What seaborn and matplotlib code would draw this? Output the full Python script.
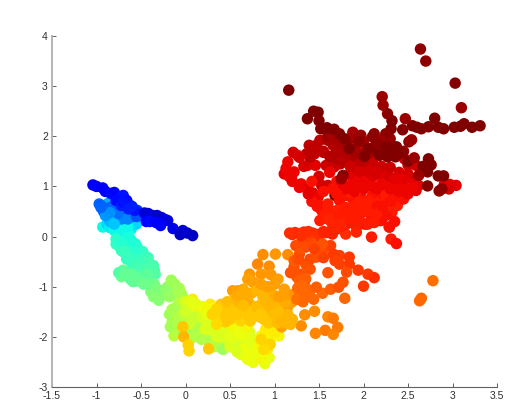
import matplotlib
matplotlib.use("Agg")
import matplotlib.pyplot as plt
import numpy as np
import pandas as pd
import seaborn as sns

x_ticks = [-1.5, -1, -0.5, 0, 0.5, 1, 1.5, 2, 2.5, 3, 3.5]
x_labels = ["-1.5", "-1", "-0.5", "0", "0.5", "1", "1.5", "2", "2.5", "3", "3.5"]
y_ticks = [-3, -2, -1, 0, 1, 2, 3, 4]
y_labels = ["-3", "-2", "-1", "0", "1", "2", "3", "4"]

# dark red points partly hidden by later ones
x_under = [1.47,1.68,1.34]
y_under = [-0.15,0.82,-0.87]
c_under = [1.0,0.98,0.98]

# dark red, top of the cloud
x_maroon = [2.64,2.70,3.03,3.10,1.16,2.21,2.22,2.27,2.32,2.31,2.25,2.44,2.55,2.65,2.60,2.73,2.84,2.90,3.02,3.13,3.09,3.22,3.31,2.47,2.80,1.44,1.49,1.37,1.50,1.52,1.59,1.67,1.73,1.79,1.97,2.12,2.10,2.20,2.26,2.37,2.51,2.54,2.10,2.27,2.36,2.18,2.67,2.73,2.76,2.72,2.84,2.90,2.72,2.85,2.88,1.77,2.01,1.84,1.95,2.05,2.15,2.30,2.40,2.50,2.57,2.62,1.75]
y_maroon = [3.74,3.50,3.06,2.57,2.92,2.79,2.62,2.45,2.31,2.15,2.05,2.13,2.21,2.15,2.18,2.19,2.18,2.15,2.18,2.25,2.20,2.18,2.21,2.35,2.36,2.50,2.48,2.35,2.31,2.15,2.17,2.14,2.05,1.95,2.02,2.05,1.99,1.92,1.79,1.79,1.89,1.93,1.77,1.59,1.59,1.62,1.40,1.55,1.43,1.29,1.21,1.21,1.01,0.91,0.95,1.22,1.60,1.75,1.90,1.75,1.85,1.72,1.65,1.50,1.57,1.22,1.15]
c_maroon = [0.96,0.96,0.97,0.95,1.0,0.95,0.95,0.96,0.97,0.97,0.96,0.97,0.98,0.99,0.99,0.97,0.97,0.98,0.98,0.98,0.99,0.99,0.99,0.95,1.0,0.97,0.99,0.98,1.0,1.0,0.99,0.98,0.97,0.97,0.95,0.96,0.96,0.95,0.98,0.99,0.96,0.95,1.0,0.99,1.0,0.98,1.0,0.99,1.0,1.0,1.0,1.0,0.97,0.96,0.96,0.97,1.0,0.98,0.96,0.97,0.96,0.98,0.97,0.97,0.95,0.95,0.95]

# deep red, upper part of the main cloud
x_deep = [1.60,1.65,1.75,1.85,1.90,2.00,2.15,2.25,2.30,2.35,2.05,1.90,1.80,1.70,2.20,2.45,1.95,1.55,1.62]
y_deep = [2.00,1.95,1.90,1.95,2.00,1.90,1.85,1.85,1.95,1.70,1.65,1.75,1.65,1.70,1.70,1.70,1.65,1.70,1.60]
c_deep = [0.95,0.94,0.94,0.95,0.94,0.94,0.95,0.95,0.95,0.95,0.94,0.94,0.93,0.93,0.95,0.96,0.94,0.92,0.93]

# pure and deep red, main cloud
x_red = [1.15,1.11,1.17,1.22,1.26,1.30,1.37,1.43,1.49,1.51,1.53,1.37,1.46,1.51,1.64,1.39,1.47,1.45,1.36,1.51,1.60,1.88,1.66,1.73,1.84,1.99,1.90,2.10,2.46,2.59,2.50,1.96,1.88,1.74,1.67,1.58,1.60,1.53,2.97,3.04,2.96,2.91,2.62,2.54,2.59,1.88,1.99,2.09,2.10,2.22,2.29,2.37,2.44,2.22,2.10,1.99,1.88,1.81,1.73,1.62,1.79,1.94,2.00,2.12,2.20,2.32,2.38,2.20,2.29,2.09,2.01,1.92,1.81,1.80,1.92,2.09,2.29,2.31,2.37,2.03,2.18,1.50,1.70,1.75,1.85,1.95,2.05,2.15,2.25,2.35,2.45,2.55,1.40,1.45,1.55,1.65,1.70,1.80,1.90,2.00,2.10,2.20,2.30,2.40,2.50,2.05,2.15,2.25,2.00,1.90,1.80,1.70,1.60,1.55,1.65,1.75,1.85,1.95,2.05,2.15,2.25,2.35,2.45,1.28,1.33,1.21,1.13,1.19,1.42,1.55,1.62,1.70,1.85,1.95,2.05,2.12,1.42,1.48,1.38,1.60,1.55,1.60,1.68,1.72,1.78,1.85,1.90,1.95,1.70,1.75,1.85,1.95,2.05,2.15,2.22,2.30,2.35,2.40,2.50,2.30,2.20,2.10,2.00,1.90,1.80,1.70,1.65,1.75,1.85,1.95,2.05,2.15,2.35,2.45,1.85,2.00,1.75,1.20,1.28]
y_red = [1.49,1.25,1.19,1.29,1.62,1.05,0.95,0.87,0.79,0.62,0.52,1.42,1.42,0.32,0.29,1.82,1.82,1.65,1.65,1.92,1.92,2.08,1.82,1.79,1.62,1.73,1.59,1.59,1.55,1.42,1.43,1.45,1.32,1.45,1.39,1.42,1.02,1.02,1.04,1.02,0.95,1.05,1.02,1.15,0.92,1.12,1.19,1.39,1.19,1.25,1.19,0.99,1.02,0.79,0.82,0.75,0.75,0.82,0.72,0.45,0.39,0.42,0.49,0.45,0.49,0.49,0.62,0.32,0.19,0.35,0.25,0.19,0.25,0.05,0.09,-0.01,0.19,-0.05,-0.14,0.25,0.32,1.20,1.05,0.95,1.00,1.08,1.02,0.95,1.00,1.05,0.90,0.98,1.58,1.70,1.68,1.60,1.55,1.50,1.40,1.35,1.48,1.40,1.38,1.28,1.25,0.72,0.66,0.82,0.62,0.60,0.58,0.52,0.65,0.10,0.15,0.20,0.30,0.42,0.55,0.60,0.42,0.30,0.75,1.58,1.40,1.68,1.36,1.18,1.10,0.90,1.28,1.10,0.88,0.70,0.50,0.28,0.70,0.60,0.85,0.55,0.42,0.35,0.30,0.42,0.55,0.50,0.40,0.50,0.15,0.25,0.30,0.30,0.25,0.45,0.60,0.70,0.80,0.90,0.85,0.95,1.05,1.00,0.95,0.90,0.95,0.85,0.95,1.10,1.25,1.30,1.30,1.25,1.15,1.15,1.40,1.50,1.60,1.10,0.98]
c_red = [0.88,0.89,0.88,0.88,0.87,0.88,0.89,0.89,0.88,0.87,0.87,0.89,0.89,0.86,0.85,0.92,0.92,0.91,0.92,0.92,0.93,0.94,0.93,0.93,0.93,0.89,0.94,0.94,0.90,0.91,0.91,0.91,0.90,0.92,0.91,0.91,0.90,0.90,0.89,0.89,0.90,0.89,0.89,0.89,0.89,0.88,0.88,0.88,0.89,0.89,0.90,0.88,0.88,0.87,0.87,0.87,0.87,0.87,0.87,0.85,0.85,0.86,0.87,0.86,0.86,0.86,0.86,0.87,0.87,0.87,0.87,0.86,0.86,0.84,0.85,0.86,0.87,0.86,0.87,0.87,0.87,0.90,0.88,0.88,0.88,0.88,0.88,0.88,0.88,0.88,0.88,0.88,0.92,0.92,0.92,0.92,0.93,0.93,0.92,0.92,0.91,0.91,0.91,0.90,0.90,0.86,0.86,0.86,0.86,0.86,0.86,0.85,0.86,0.85,0.85,0.86,0.86,0.86,0.86,0.87,0.87,0.87,0.87,0.90,0.90,0.90,0.88,0.88,0.87,0.87,0.88,0.87,0.86,0.86,0.86,0.86,0.87,0.87,0.89,0.86,0.86,0.85,0.85,0.86,0.86,0.86,0.86,0.86,0.85,0.85,0.86,0.86,0.86,0.86,0.87,0.87,0.87,0.88,0.88,0.88,0.88,0.88,0.88,0.88,0.88,0.87,0.87,0.88,0.89,0.90,0.90,0.90,0.89,0.89,0.91,0.92,0.92,0.88,0.88]

# orange-red, below the cloud
x_orange_red = [1.17,1.23,1.28,1.33,1.38,1.43,1.48,1.53,1.58,1.65,1.24,1.30,1.36,1.41,1.44,1.22,1.18,1.25,1.35,1.40,1.30,1.28,1.35,1.54,1.63,1.73,1.84,1.84,1.73,1.66,1.35,1.28,1.22,1.47,1.54,1.94,1.81,2.05,2.12,1.60,1.26,1.32,1.37,1.29,1.34,1.25,1.32,1.39,1.33,1.44,1.54,1.63,1.72,1.77,2.00,1.47,1.79,1.30,1.38,1.20,1.27,1.45,1.55,1.68,1.40]
y_orange_red = [0.07,0.08,0.06,0.09,0.05,0.07,0.04,0.06,0.08,0.05,-0.18,-0.12,-0.05,-0.10,-0.16,-0.60,-0.72,-0.80,-0.55,-0.65,-0.75,-0.88,-0.84,-0.28,-0.18,-0.38,-0.41,-0.55,-0.55,-0.35,-0.21,-0.35,-0.48,-0.41,-0.15,-0.67,-0.71,-0.75,-0.82,-0.72,-1.03,-0.98,-1.05,-1.15,-1.20,-1.25,-1.30,-1.12,-1.08,-1.25,-1.13,-1.05,-1.01,-0.91,-0.99,-1.01,-1.23,0.02,0.10,0.04,-0.45,-0.25,-0.42,-0.48,-0.45]
c_orange_red = [0.84,0.84,0.84,0.84,0.84,0.84,0.84,0.84,0.85,0.85,0.81,0.81,0.82,0.82,0.81,0.80,0.80,0.80,0.80,0.80,0.80,0.79,0.79,0.81,0.82,0.82,0.83,0.83,0.82,0.83,0.81,0.80,0.79,0.80,0.80,0.83,0.81,0.83,0.84,0.80,0.78,0.78,0.78,0.78,0.78,0.77,0.78,0.78,0.78,0.78,0.78,0.79,0.80,0.80,0.83,0.79,0.78,0.84,0.84,0.84,0.81,0.82,0.82,0.82,0.81]

# orange and amber, right side of the valley
x_orange = [0.87,1.01,1.15,0.81,0.94,0.72,0.85,0.96,1.04,0.76,0.81,0.53,0.59,0.74,0.94,1.11,0.66,0.87,0.96,0.48,0.55,1.34,1.45,1.60,1.66,1.71,1.57,1.66,1.46,1.30,1.17,1.08,1.10,1.15,1.20,1.05,1.00,0.85,0.90,0.95,0.70,0.75,0.80,0.60,0.65,0.55,0.50,0.42,0.38,0.45,0.52,0.58,0.62,0.68,0.73,0.78,0.83,0.88,0.93,0.98,1.03,1.08,1.13,1.18,0.30,0.35,0.60,0.70,0.80,0.90,1.00,1.10,2.65,2.63,2.78,0.40,0.47,0.55,0.60,0.70,0.75,0.80,0.85,0.90,0.95,1.00,1.05,1.10,0.65,0.58,0.45,0.35,1.15,1.20,1.12,1.05,1.15,1.22,0.85,0.92,1.00,0.70,0.65,0.58]
y_orange = [-0.36,-0.35,-0.36,-0.55,-0.59,-0.75,-0.75,-0.76,-0.85,-0.91,-1.00,-1.08,-1.08,-1.13,-1.05,-1.05,-1.25,-1.20,-1.28,-1.37,-1.25,-1.56,-1.49,-1.60,-1.63,-1.81,-1.87,-1.95,-1.93,-1.78,-1.63,-1.80,-1.55,-1.40,-1.30,-1.35,-1.45,-1.35,-1.45,-1.55,-1.45,-1.38,-1.50,-1.40,-1.50,-1.55,-1.65,-1.50,-1.60,-1.70,-1.45,-1.60,-1.68,-1.60,-1.68,-1.42,-1.60,-1.65,-1.72,-1.62,-1.72,-1.68,-1.72,-1.75,-1.55,-1.75,-1.20,-1.28,-1.08,-1.10,-1.18,-1.20,-1.23,-1.28,-0.88,-1.35,-1.30,-1.45,-1.30,-1.55,-1.60,-1.40,-1.55,-1.30,-1.40,-1.55,-1.50,-1.70,-1.38,-1.55,-1.55,-1.45,-1.55,-1.65,-1.30,-1.20,-1.15,-1.15,-0.95,-1.00,-0.95,-0.85,-1.05,-1.18]
c_orange = [0.74,0.73,0.74,0.75,0.74,0.73,0.73,0.73,0.72,0.72,0.72,0.72,0.72,0.71,0.71,0.72,0.71,0.70,0.70,0.70,0.70,0.74,0.74,0.75,0.76,0.76,0.76,0.75,0.75,0.74,0.72,0.72,0.71,0.72,0.72,0.70,0.70,0.69,0.69,0.69,0.68,0.68,0.68,0.68,0.68,0.68,0.68,0.67,0.67,0.68,0.68,0.68,0.67,0.67,0.68,0.68,0.68,0.68,0.68,0.68,0.69,0.70,0.69,0.70,0.67,0.66,0.70,0.71,0.70,0.70,0.71,0.71,0.78,0.78,0.77,0.68,0.69,0.68,0.70,0.68,0.68,0.69,0.68,0.70,0.70,0.69,0.69,0.70,0.69,0.68,0.68,0.67,0.70,0.70,0.71,0.72,0.72,0.73,0.72,0.72,0.72,0.72,0.71,0.71]

# yellow, floor of the valley
x_yellow = [0.89,0.89,0.94,0.81,0.70,0.62,0.76,0.84,0.92,0.98,1.05,0.40,0.45,0.50,0.55,0.60,0.65,0.70,0.75,0.80,0.85,0.28,0.33,0.38,0.42,0.48,0.52,0.58,0.62,0.66,0.72,0.78,0.85,0.05,0.12,0.18,0.24,0.30,0.36,0.90,0.95,1.00,0.15,0.22,0.08,0.72,0.80,0.87,0.00,0.06,0.12,0.20,0.25,0.30,0.10,0.20,0.30,0.40,0.45,0.50,0.55,0.60,0.65,0.70,0.75,0.80,0.85,0.65,0.58,0.50,0.35,0.25,0.00,0.05,0.62,0.70,0.90,1.00,1.05,0.95,0.75,0.68]
y_yellow = [-2.21,-2.53,-2.41,-2.38,-2.45,-2.35,-2.51,-2.42,-2.25,-1.95,-1.98,-1.65,-1.85,-1.72,-1.90,-2.05,-1.95,-2.15,-2.05,-2.10,-1.98,-1.35,-1.42,-1.60,-2.00,-2.08,-1.78,-2.10,-2.22,-1.85,-1.90,-2.20,-2.30,-1.38,-1.45,-1.55,-1.70,-1.88,-1.80,-1.95,-2.10,-1.90,-1.40,-1.85,-1.25,-2.30,-2.15,-2.05,-1.30,-1.30,-1.35,-1.40,-1.45,-1.50,-1.60,-1.62,-1.70,-1.75,-1.95,-2.00,-2.00,-1.85,-2.05,-2.00,-2.10,-2.25,-2.15,-2.25,-2.30,-2.20,-2.00,-1.55,-1.50,-1.75,-1.95,-1.80,-1.85,-1.80,-1.85,-1.80,-2.35,-2.40]
c_yellow = [0.64,0.62,0.62,0.62,0.62,0.61,0.62,0.63,0.64,0.63,0.63,0.64,0.60,0.62,0.60,0.58,0.61,0.58,0.60,0.60,0.63,0.64,0.63,0.62,0.60,0.59,0.63,0.59,0.59,0.61,0.60,0.62,0.62,0.63,0.62,0.62,0.61,0.60,0.60,0.64,0.63,0.64,0.63,0.60,0.64,0.61,0.62,0.63,0.60,0.61,0.61,0.62,0.63,0.63,0.58,0.60,0.60,0.61,0.60,0.61,0.61,0.62,0.60,0.61,0.61,0.62,0.63,0.62,0.60,0.60,0.60,0.62,0.59,0.58,0.62,0.63,0.64,0.64,0.64,0.64,0.62,0.62]

# amber stragglers
x_amber = [-0.03,-0.02,0.03,0.04,0.26,0.95,0.88,0.85]
y_amber = [-1.80,-2.00,-2.16,-2.28,-2.24,-2.15,-2.25,-2.05]
c_amber = [0.68,0.70,0.67,0.67,0.68,0.67,0.66,0.67]

# lime and green, left of the valley
x_green = [-0.70,-0.72,-0.59,-0.65,-0.44,-0.39,-0.30,-0.28,-0.16,-0.12,-0.07,-0.03,-0.20,-0.25,-0.35,-0.55,-0.75,-0.62,-0.50,-0.42,-0.15,-0.10,-0.05,0.00,-0.15,-0.13,-0.08,-0.02,0.05,0.10,0.15,0.20,0.26,0.32,0.38,0.44,0.50,0.00,0.05,0.12,0.18,0.25,0.30,0.55,0.42,0.48,-0.18,-0.10,-0.06,0.02,-0.68,-0.60,-0.55,-0.47,-0.40,-0.33,-0.36,-0.22,-0.18,-0.12,-0.05,-0.02,-0.10,-0.15,-0.17,-0.08,0.00,0.06,0.10,0.14,0.18,0.22,0.34]
y_green = [-0.67,-0.80,-0.90,-0.72,-0.83,-1.10,-1.27,-1.07,-0.87,-1.10,-1.03,-1.20,-1.00,-1.15,-0.95,-0.80,-0.72,-0.85,-0.90,-0.75,-0.95,-1.20,-1.30,-1.35,-1.70,-1.98,-1.85,-1.55,-1.60,-1.70,-1.80,-1.95,-2.10,-2.20,-2.05,-2.15,-2.10,-1.95,-2.05,-1.72,-1.85,-1.95,-2.10,-2.15,-2.25,-1.90,-1.55,-1.60,-1.45,-1.75,-0.75,-0.75,-0.88,-0.95,-0.95,-1.05,-1.20,-1.05,-1.20,-0.95,-1.12,-1.30,-1.40,-1.45,-1.80,-1.70,-1.62,-1.85,-2.00,-1.65,-2.05,-1.75,-1.95]
c_green = [0.46,0.47,0.46,0.44,0.47,0.49,0.50,0.50,0.53,0.53,0.54,0.54,0.52,0.50,0.48,0.45,0.44,0.45,0.45,0.45,0.53,0.55,0.56,0.57,0.54,0.56,0.55,0.57,0.55,0.55,0.54,0.55,0.55,0.55,0.56,0.56,0.55,0.55,0.54,0.54,0.55,0.55,0.55,0.53,0.53,0.55,0.53,0.55,0.56,0.54,0.46,0.46,0.46,0.47,0.47,0.49,0.50,0.51,0.52,0.53,0.54,0.55,0.55,0.54,0.54,0.55,0.56,0.54,0.55,0.56,0.55,0.55,0.56]

# cyan column
x_cyan = [-0.93,-0.88,-0.78,-0.61,-0.55,-0.70,-0.76,-0.74,-0.65,-0.52,-0.44,-0.35,-0.72,-0.68,-0.62,-0.56,-0.78,-0.72,-0.66,-0.60,-0.54,-0.48,-0.42,-0.40,-0.48,-0.55,-0.60,-0.50,-0.45,-0.38,-0.36,-0.44,-0.74,-0.70,-0.66,-0.62,-0.58,-0.54,-0.50,-0.46,-0.42,-0.38,-0.34,-0.56,-0.60,-0.64,-0.70,-0.65,-0.85,-0.80,-0.75,-0.70,-0.66,-0.60,-0.55,-0.50,-0.45,-0.78]
y_cyan = [0.19,0.25,0.22,0.15,0.25,0.10,0.00,-0.20,-0.33,-0.40,-0.53,-0.67,-0.10,0.05,-0.05,-0.15,-0.15,-0.28,-0.45,-0.55,-0.22,-0.30,-0.42,-0.62,-0.68,-0.72,-0.65,-0.55,-0.72,-0.78,-0.58,-0.62,-0.05,-0.12,-0.20,-0.28,-0.35,-0.45,-0.50,-0.45,-0.48,-0.60,-0.75,-0.25,-0.10,0.05,0.18,0.20,0.18,0.12,0.10,-0.30,-0.42,-0.45,-0.60,-0.68,-0.65,-0.05]
c_cyan = [0.36,0.33,0.36,0.35,0.33,0.37,0.38,0.40,0.39,0.41,0.42,0.43,0.38,0.37,0.37,0.38,0.40,0.40,0.40,0.41,0.39,0.40,0.41,0.43,0.43,0.42,0.41,0.41,0.43,0.44,0.43,0.42,0.38,0.38,0.39,0.40,0.40,0.41,0.41,0.41,0.42,0.43,0.44,0.39,0.38,0.37,0.36,0.36,0.35,0.36,0.36,0.41,0.41,0.41,0.42,0.42,0.43,0.39]

# light and mid blue
x_midblue = [-0.97,-0.93,-0.87,-0.88,-0.82,-0.80,-0.72,-0.65,-0.92,-0.85,-0.78,-0.72,-0.60,-0.54,-0.48,-0.68,-0.95,-0.85,-0.75,-0.65,-0.55,-0.90,-0.85,-0.95,-0.80]
y_midblue = [0.65,0.55,0.66,0.40,0.45,0.35,0.50,0.42,0.50,0.30,0.60,0.35,0.40,0.52,0.42,0.60,0.62,0.58,0.45,0.35,0.40,0.42,0.48,0.58,0.25]
c_midblue = [0.22,0.23,0.29,0.27,0.24,0.29,0.20,0.22,0.21,0.30,0.21,0.25,0.19,0.18,0.17,0.17,0.21,0.22,0.23,0.25,0.20,0.27,0.26,0.22,0.31]

# deep blue strand
x_blue = [-1.04,-1.00,-0.93,-0.90,-0.84,-0.80,-0.74,-0.70,-0.67,-0.62,-0.57,-0.78,-0.72,-0.66,-0.60,-0.46,-0.42,-0.37,-0.32,-0.27,-0.23,-0.20,-0.14,-0.44,-0.40,-0.33,-0.28,-0.03,-0.06,0.02,0.08,-0.70,-0.64]
y_blue = [1.03,1.00,0.97,0.90,0.86,0.88,0.79,0.82,0.69,0.62,0.52,0.72,0.62,0.72,0.60,0.47,0.46,0.42,0.42,0.38,0.34,0.32,0.16,0.30,0.30,0.28,0.22,0.12,0.04,0.07,0.02,0.68,0.55]
c_blue = [0.10,0.11,0.11,0.12,0.13,0.12,0.13,0.14,0.14,0.13,0.14,0.13,0.15,0.13,0.15,0.08,0.07,0.08,0.07,0.07,0.08,0.08,0.09,0.12,0.13,0.12,0.12,0.07,0.06,0.07,0.06,0.14,0.15]

df = pd.DataFrame({
    "x": x_under + x_cyan + x_midblue + x_blue + x_green + x_yellow + x_amber + x_orange + x_orange_red + x_red + x_deep + x_maroon,
    "y": y_under + y_cyan + y_midblue + y_blue + y_green + y_yellow + y_amber + y_orange + y_orange_red + y_red + y_deep + y_maroon,
    "c": c_under + c_cyan + c_midblue + c_blue + c_green + c_yellow + c_amber + c_orange + c_orange_red + c_red + c_deep + c_maroon,
})

sns.set_style("white")
plt.rcParams["font.family"] = ["Liberation Sans", "DejaVu Sans"]

fig = plt.figure(figsize=(5.09, 4.00), dpi=100)
ax = fig.add_axes([52 / 509, 1 - 387 / 400, 445 / 509, 351 / 400])
sns.scatterplot(data=df, x="x", y="y", hue="c", palette=matplotlib.colormaps["jet"], hue_norm=(0, 0.975),
                s=68, linewidth=0, legend=False, clip_on=False, ax=ax)
ax.set_xlim(-1.5, 3.5)
ax.set_ylim(-3, 4)
ax.set_xticks(x_ticks, x_labels)
ax.set_yticks(y_ticks, y_labels)
ax.set_xlabel("")
ax.set_ylabel("")
ax.spines["top"].set_visible(False)
ax.spines["right"].set_visible(False)
ax.spines["left"].set_color("#b4b4b4")
ax.spines["left"].set_linewidth(1.4)
ax.spines["bottom"].set_color("#606060")
ax.spines["bottom"].set_linewidth(0.8)
ax.tick_params(direction="in", length=3, width=0.7, color="#606060",
               labelsize=7.5, labelcolor="#303030", pad=3, left=True, bottom=True)
ax.tick_params(axis="x", pad=3)
fig.savefig("out.png", dpi=100)
